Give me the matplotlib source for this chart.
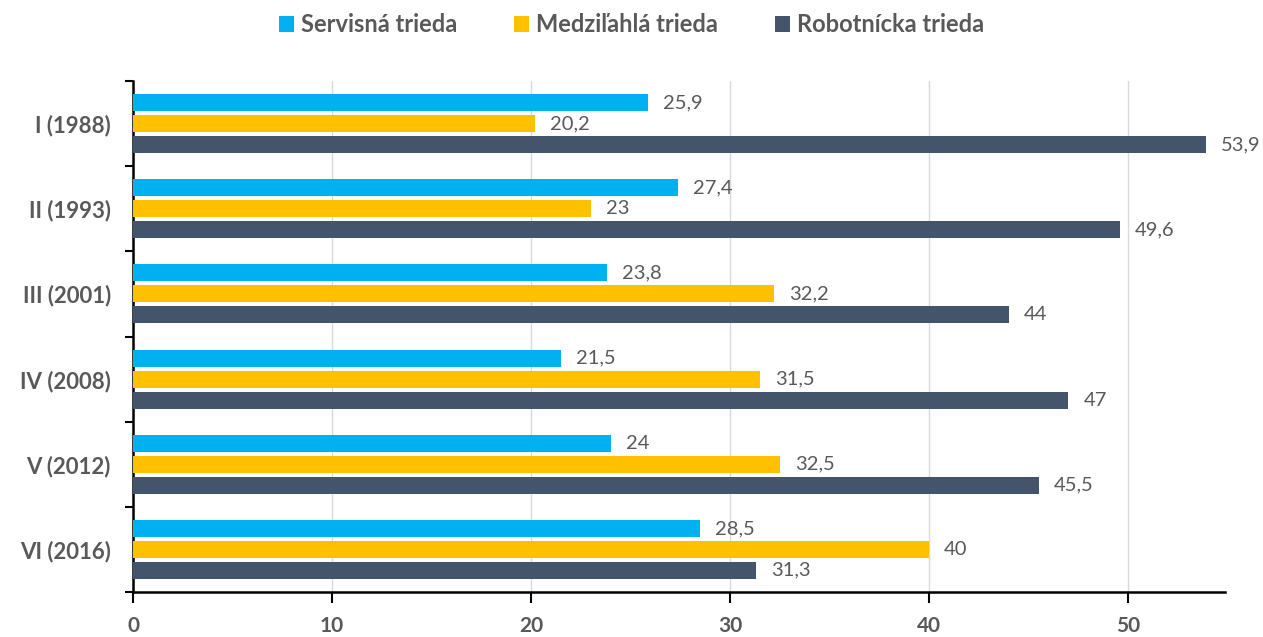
import matplotlib
matplotlib.use("Agg")
import matplotlib.pyplot as plt
import numpy as np

categories = ["I (1988)", "II (1993)", "III (2001)", "IV (2008)", "V (2012)", "VI (2016)"]
series_names = ["Servisná trieda", "Medziľahlá trieda", "Robotnícka trieda"]
servisna = [25.9, 27.4, 23.8, 21.5, 24, 28.5]
medzilahla = [20.2, 23, 32.2, 31.5, 32.5, 40]
robotnicka = [53.9, 49.6, 44, 47, 45.5, 31.3]
xticks = [0, 10, 20, 30, 40, 50]
colors = ["#00B0F0", "#FFC000", "#44546A"]

plt.rcParams['font.family'] = ['Lato', 'DejaVu Sans']

fig = plt.figure(figsize=(12.63, 6.37), dpi=100)
ax = fig.add_axes([133/1263, 1-592/637, (1225-133)/1263, (592-81)/637])

n = len(categories)
y = np.arange(n)
offsets = [-0.246, 0, 0.246]
h = 0.2
handles = []
for vals, off, c, name in zip([servisna, medzilahla, robotnicka], offsets, colors, series_names):
    b = ax.barh(y + off, vals, height=h, color=c, label=name, zorder=3)
    handles.append(b)
    for yi, v in zip(y, vals):
        txt = f"{v:g}".replace(".", ",")
        ax.text(v + 0.75, yi + off, txt, va='center', ha='left', fontsize=14.5, color='#595959')

ax.set_ylim(n - 0.5, -0.5)
ax.set_xlim(0, 54.87)
ax.set_xticks(xticks, labels=[str(t) for t in xticks], fontweight='bold', fontsize=15, color='#595959')
ax.set_yticks(y, labels=categories, fontsize=16, fontweight='bold', color='#595959')
ax.set_yticks(np.arange(-0.5, n, 1), minor=True)
ax.tick_params(axis='y', which='major', length=0, pad=16)
ax.tick_params(axis='y', which='minor', length=6, width=1.5, direction='out', color='black')
ax.tick_params(axis='x', which='major', length=8, width=1.5, direction='out', color='black', pad=9)

ax.grid(axis='x', color='#D9D9D9', linewidth=1, zorder=0)
for s in ['top', 'right']:
    ax.spines[s].set_visible(False)
ax.spines['left'].set_linewidth(1.8)
ax.spines['bottom'].set_linewidth(1.8)

leg = fig.legend(handles=handles, labels=series_names, loc='center', bbox_to_anchor=(0.5, 1-25/637),
                 ncol=3, frameon=False, handlelength=0.65, handleheight=0.65,
                 columnspacing=2.4, handletextpad=0.3,
                 prop={'family': ['Lato', 'DejaVu Sans'], 'weight': 'bold', 'size': 17})
for t in leg.get_texts():
    t.set_color('#595959')

fig.savefig("out.png", dpi=100)
